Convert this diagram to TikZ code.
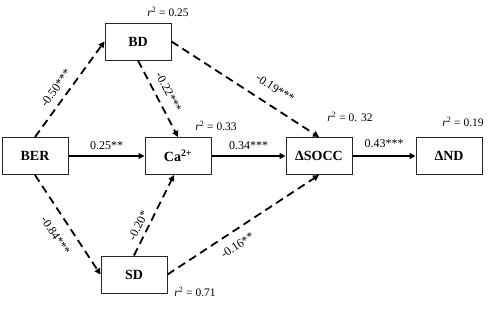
\documentclass[tikz,border=0pt]{standalone}
\usepackage{fontspec}
\setmainfont{Liberation Serif}
\usetikzlibrary{arrows.meta}
\newcommand{\rsq}{\textit{r}\textsuperscript{2} = }
\tikzset{
  box/.style={draw=black!85, line width=1pt, minimum width=66pt, minimum height=37pt, inner sep=0pt, font=\fontsize{14}{16}\selectfont\bfseries},
  conn/.style={line width=1.8pt, -{Triangle[length=6pt,width=6pt]}},
  dconn/.style={conn, dash pattern=on 8pt off 5pt},
  lab/.style={font=\fontsize{12}{13}\selectfont, inner sep=0pt, sloped},
  rlab/.style={font=\fontsize{12}{13}\selectfont, inner sep=0pt},
  rsqlab/.style={font=\fontsize{11.5}{13}\selectfont, inner sep=0pt}
}
\begin{document}
\begin{tikzpicture}[x=1pt,y=-1pt]
\useasboundingbox (0,0) rectangle (500,308);
\node[box] (BER) at (35,156) {BER};
\node[box] (BD) at (138,41.5) {BD};
\node[box] (Ca) at (178,156) {Ca\textsuperscript{2+}};
\node[box] (SOCC) at (319,156) {ΔSOCC};
\node[box] (ND) at (449,156) {ΔND};
\node[box] (SD) at (134,274.5) {SD};

\draw[dconn] (BER.north) -- node[lab, pos=0.44, above, outer sep=8pt] {-0.50***} (BD.west);
\draw[dconn] (BD.south) -- node[lab, pos=0.49, above, outer sep=8.5pt] {-0.22***} (Ca.north);
\draw[dconn] (BD.east) -- node[lab, pos=0.64, above, outer sep=13pt] {-0.19***} (SOCC.north);
\draw[dconn] (BER.south) -- node[lab, pos=0.52, below, outer sep=12pt] {-0.84***} (SD.west);
\draw[dconn] (SD.north) -- node[lab, pos=0.32, above, outer sep=5.5pt] {-0.20*} ([xshift=-4pt]Ca.south);
\draw[dconn] (SD.east) -- node[lab, pos=0.41, below, outer sep=10pt] {-0.16**} (SOCC.south);

\draw[conn] (BER.east) -- node[rlab, above, outer sep=6.5pt] {0.25**} (Ca.west);
\draw[conn] (Ca.east) -- node[rlab, above, outer sep=6.5pt] {0.34***} (SOCC.west);
\draw[conn] (SOCC.east) -- node[rlab, above, outer sep=8.5pt] {0.43***} (ND.west);

\node[rsqlab] (r1) at (168,12) {\rsq 0.25};
\node[rsqlab] (r2) at (216,126) {\rsq 0.33};
\node[rsqlab] (r3) at (350,117) {\rsq 0. 32};
\node[rsqlab] (r4) at (463,122) {\rsq 0.19};
\node[rsqlab] (r5) at (195,292) {\rsq 0.71};
\end{tikzpicture}
\end{document}
